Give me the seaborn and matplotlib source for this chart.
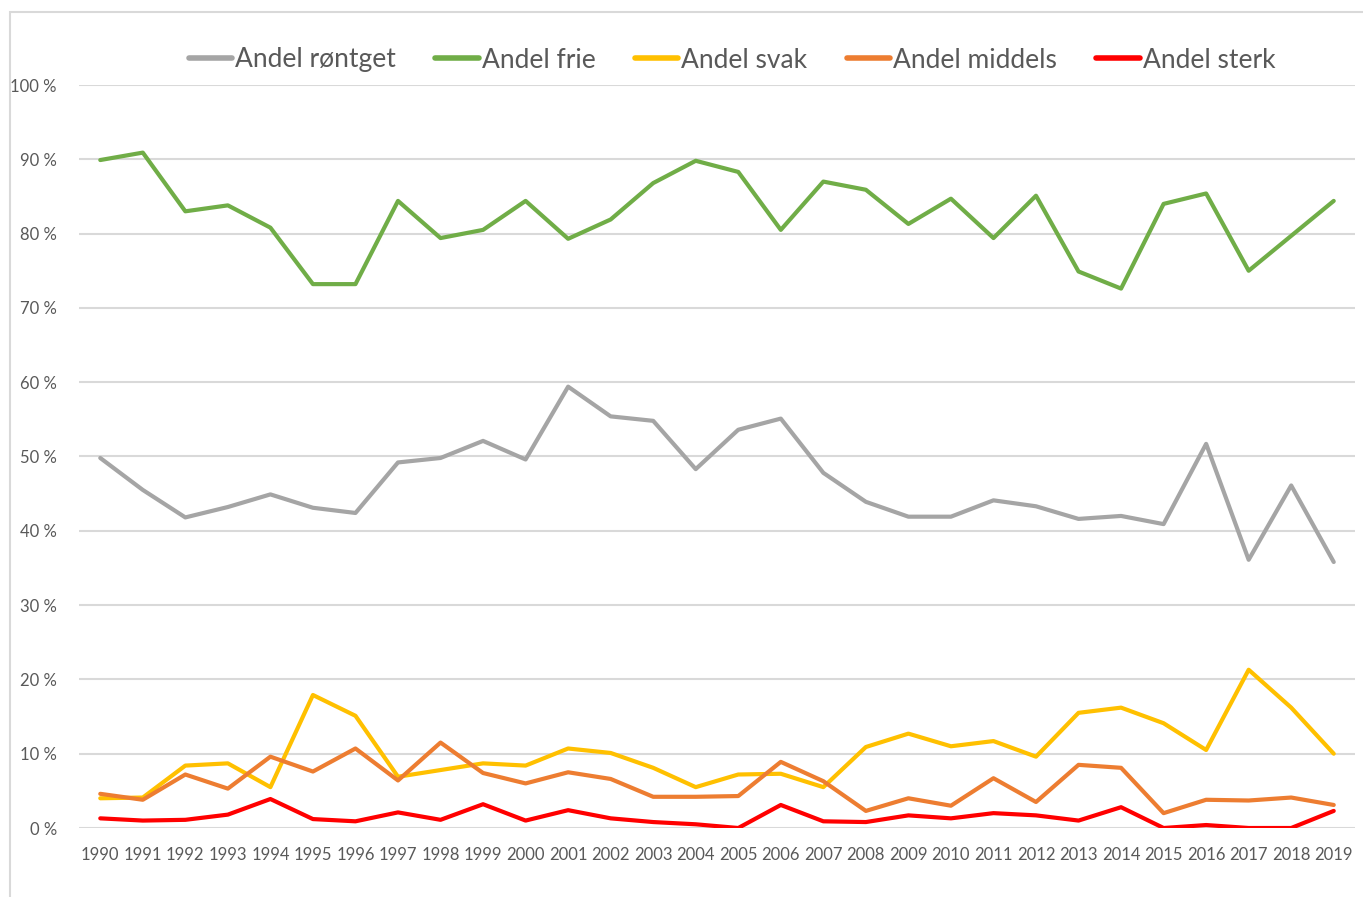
import pandas as pd
import matplotlib
matplotlib.use("Agg")
import matplotlib.pyplot as plt
import seaborn as sns
from matplotlib.patches import Rectangle

# =========================
# DATA
# =========================
years = list(range(1990, 2020))

rontget = [49.8, 45.5, 41.8, 43.2, 44.9, 43.1, 42.4, 49.2, 49.8, 52.1,
           49.6, 59.4, 55.4, 54.8, 48.3, 53.6, 55.1, 47.8, 43.9, 41.9,
           41.9, 44.1, 43.3, 41.6, 42.0, 40.9, 51.7, 36.1, 46.1, 35.8]
frie = [89.9, 90.9, 83.0, 83.8, 80.8, 73.2, 73.2, 84.4, 79.4, 80.5,
        84.4, 79.3, 81.9, 86.8, 89.8, 88.3, 80.5, 87.0, 85.9, 81.3,
        84.7, 79.4, 85.1, 74.9, 72.6, 84.0, 85.4, 75.0, 79.7, 84.4]
svak = [4.0, 4.1, 8.4, 8.7, 5.5, 17.9, 15.1, 6.9, 7.8, 8.7,
        8.4, 10.7, 10.1, 8.1, 5.5, 7.2, 7.3, 5.5, 10.9, 12.7,
        11.0, 11.7, 9.6, 15.5, 16.2, 14.1, 10.5, 21.3, 16.2, 10.0]
middels = [4.6, 3.8, 7.2, 5.3, 9.6, 7.6, 10.7, 6.4, 11.5, 7.4,
           6.0, 7.5, 6.6, 4.2, 4.2, 4.3, 8.9, 6.3, 2.3, 4.0,
           3.0, 6.7, 3.5, 8.5, 8.1, 2.0, 3.8, 3.7, 4.1, 3.1]
sterk = [1.3, 1.0, 1.1, 1.8, 3.9, 1.2, 0.9, 2.1, 1.1, 3.2,
         1.0, 2.4, 1.3, 0.8, 0.5, 0.0, 3.1, 0.9, 0.8, 1.7,
         1.3, 2.0, 1.7, 1.0, 2.8, 0.0, 0.4, 0.0, 0.0, 2.3]

series_names = ["Andel røntget", "Andel frie", "Andel svak", "Andel middels", "Andel sterk"]
colors = ["#A5A5A5", "#70AD47", "#FFC000", "#ED7D31", "#FF0000"]

df = pd.DataFrame({"year": years, series_names[0]: rontget, series_names[1]: frie,
                   series_names[2]: svak, series_names[3]: middels, series_names[4]: sterk})
long = df.melt(id_vars="year", var_name="serie", value_name="andel")

# =========================
# PLOT
# =========================
sns.set_style("white")
plt.rcParams["font.family"] = ["Lato", "DejaVu Sans"]

fig = plt.figure(figsize=(13.63, 8.97), dpi=100)
ax = fig.add_axes([79 / 1363, 69 / 897, 1276 / 1363, 743 / 897])

# thin frame round the chart (like the Excel chart area)
fig.patches.append(Rectangle((10 / 1363, -0.1), 1.2, (897 - 12) / 897 + 0.1,
                             transform=fig.transFigure, fill=False,
                             edgecolor="#D9D9D9", linewidth=1.5))

sns.lineplot(data=long, x="year", y="andel", hue="serie", hue_order=series_names,
             palette=colors, linewidth=3, ax=ax, legend=False)

ax.set_xlim(1989.5, 2019.5)
ax.set_ylim(0, 100)
ax.set_yticks(range(0, 101, 10))
ax.set_yticklabels([f"{v} %" for v in range(0, 101, 10)])
ax.set_xticks(years)
ax.set_xticklabels([str(y) for y in years])
ax.yaxis.grid(True, color="#D9D9D9", linewidth=1.5)
ax.set_axisbelow(True)
for s in ax.spines.values():
    s.set_visible(False)
ax.tick_params(axis="both", length=0, colors="#595959", labelsize=12)
ax.tick_params(axis="y", pad=16)
ax.tick_params(axis="x", pad=14)
ax.set_xlabel("")
ax.set_ylabel("")

handles = [plt.Line2D([], [], color=c, linewidth=4) for c in colors]
leg = ax.legend(handles, series_names, ncol=5, loc="center",
                bbox_to_anchor=((732 - 79) / 1276, (897 - 60 - 69) / 743), frameon=False,
                fontsize=19, handlelength=1.65, handletextpad=0.1,
                columnspacing=1.5)
for t in leg.get_texts():
    t.set_color("#595959")

plt.savefig("out.png", dpi=100)
plt.close()
